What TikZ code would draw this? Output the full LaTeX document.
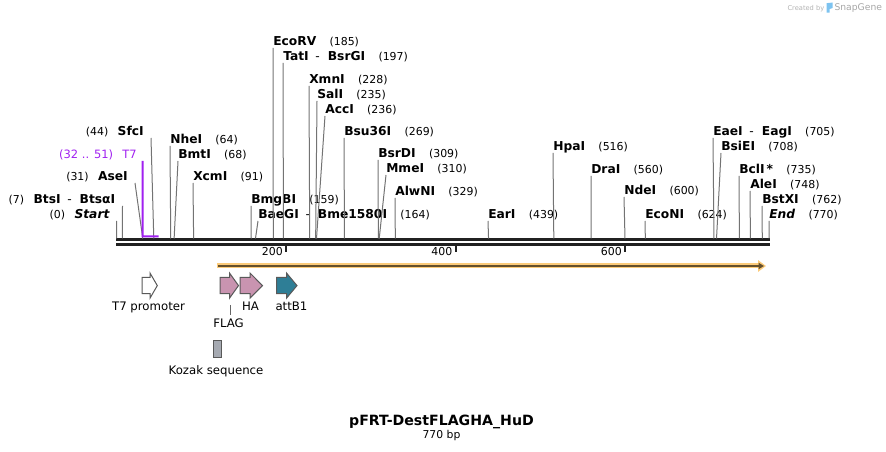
\documentclass[tikz,border=0pt]{standalone}
\usepackage{fontspec}
\setmainfont{DejaVu Sans}
\usepackage{tikz}
\usetikzlibrary{arrows.meta,calc,positioning}
\definecolor{tagpink}{RGB}{201,148,176}
\definecolor{attteal}{RGB}{46,126,150}
\definecolor{kozgray}{RGB}{166,170,178}
\definecolor{t7purple}{RGB}{160,32,240}
\definecolor{orfband}{RGB}{252,203,122}
\definecolor{orfdark}{RGB}{100,80,45}
\definecolor{logoblue}{RGB}{125,195,240}
\newcommand\enzfont{\fontsize{9.2}{11}\selectfont\bfseries}

\begin{document}
\begin{tikzpicture}[x=0.75pt,y=-0.75pt,
  enz/.style={inner sep=0pt,font=\fontsize{8.2}{10}\selectfont},
  lbl/.style={inner sep=0pt,font=\fontsize{8.8}{10}\selectfont},
  cut/.style={draw=black!55,line width=0.75pt},
  bb/.style={draw=black!87,line width=2.25pt},
  feat/.style={draw=black!65,line width=0.75pt},
  primer/.style={draw=t7purple,line width=1.5pt}]
\useasboundingbox (0,0) rectangle (886,452);

% backbone and ruler
\coordinate (bbL) at (116,240); \coordinate (bbR) at (769.5,240);
\draw[bb] (bbL) -- (bbR);
\draw[bb] ([yshift=-3.5pt]bbL) -- ([yshift=-3.5pt]bbR);
\foreach \t in {200,400,600} {
  \coordinate (k\t) at ({116.5+\t*0.8475},246);
  \draw[line width=1.5pt,black!87] (k\t) -- ++(0,6);
  \node[enz,anchor=base east] (t\t) at ({113.5+\t*0.8475},256) {\t};
}

% enzymes, labels right of the cut line
\foreach \bp/\lx/\by/\nm in {
  64/170/144/NheI, 68/178/159/BmtI, 91/193/181/XcmI, 159/251/204/BmgBI,
  164/258/219/{BaeGI\hspace{5pt}{\mdseries-}\hspace{6pt}Bme1580I},
  185/273/46/EcoRV, 197/283/61/{TatI\hspace{5pt}{\mdseries-}\hspace{6pt}BsrGI},
  228/309/84/XmnI, 235/317/99/SalI, 236/325/114/AccI, 269/344/136/Bsu36I,
  309/378/158/BsrDI, 310/386/173/MmeI, 329/395/196/AlwNI, 439/488/219/EarI,
  516/553/151/HpaI, 560/591/174/DraI, 600/624/195/NdeI, 624/645/219/EcoNI,
  705/713/136/{EaeI\hspace{5pt}{\mdseries-}\hspace{6pt}EagI}, 708/721/151/BsiEI,
  735/739/174/{BclI\,*}, 748/750/189/AleI, 762/762/204/BstXI, 770/769/219/{\itshape End}}
{
  \coordinate (c\bp) at ({116.5+\bp*0.8475},238.5);
  \node[enz,anchor=base west] (e\bp) at (\lx,\by) {{\enzfont\nm}\hspace{10pt}(\bp)};
  \draw[cut] ([yshift=-1.5pt]e\bp.base west) -- (c\bp);
}

% enzymes, labels left of the cut line
\foreach \bp/\tx/\by/\nm in {
  0/116.7/219/{\itshape Start}, 7/122.5/204/{BtsI\hspace{5pt}{\mdseries-}\hspace{6pt}BtsαI},
  31/135/181/AseI, 44/151/136/SfcI}
{
  \coordinate (c\bp) at ({116.5+\bp*0.8475},238.5);
  \node[enz,anchor=base east] (e\bp) at ({\tx-7},\by) {(\bp)\hspace{7pt}{\enzfont\nm}};
  \draw[cut] ([xshift=5.25pt,yshift=-1.5pt]e\bp.base east) -- (c\bp);
}

% T7 primer
\node[enz,anchor=base east,text=t7purple,font=\fontsize{8.6}{10}\selectfont] (t7p) at (137,159) {(32 .. 51)\hspace{7pt}T7};
\coordinate (p1) at (142.7,236.5); \coordinate (p2) at (158.5,236.5);
\draw[primer] ([xshift=4.3pt,yshift=-1.5pt]t7p.base east) -- (p1) -- (p2);

% ORF
\coordinate (o1) at (217,266); \coordinate (o2) at (766,266);
\draw[orfband,line width=3.75pt,-{Triangle[length=6pt,width=8.5pt]}] (o1) -- (o2);
\draw[orfdark,line width=1.5pt,-{Triangle[length=4pt,width=4.5pt]}] ([xshift=0.75pt]o1) -- ([xshift=-1.5pt]o2);

% features
\foreach \a/\b/\c/\col in {142/150/157.3/white, 220/229.5/238.5/tagpink,
  240/250/262.5/tagpink, 276.5/286.5/297/attteal}
  \draw[feat,fill=\col] (\a,277.5) -- (\b,277.5) -- (\b,273) -- (\c,285.6) -- (\b,298.2) -- (\b,293.7) -- (\a,293.7) -- cycle;
\node[lbl,anchor=base] (f1) at (148.5,311) {T7 promoter};
\node[lbl,anchor=base] (f2) at (250.5,311) {HA};
\node[lbl,anchor=base] (f3) at (291.5,311) {attB1};
\node[lbl,anchor=base] (f4) at (228.5,327.7) {FLAG};
\coordinate (fl) at (230,305);
\draw[black!60,line width=0.75pt] (fl) -- ([yshift=3pt]f4.north -| fl);
\draw[feat,fill=kozgray] (213.3,341) rectangle (221.7,357.7);
\node[lbl,anchor=base] (f5) at (216,375) {Kozak sequence};

% title
\node[inner sep=0pt,anchor=base,font=\fontsize{10.6}{12}\selectfont\bfseries] (ttl) at (441.5,426) {pFRT-DestFLAGHA\_HuD};
\node[inner sep=0pt,anchor=base,font=\fontsize{8.1}{10}\selectfont] (len) at (441.5,438.3) {770 bp};

% watermark
\node[inner sep=0pt,anchor=base east,text=black!30,font=\fontsize{5}{6}\selectfont] (cb) at (824.5,10.7) {Created by};
\fill[logoblue] (826.7,3.2) -- (832.7,2.5) -- (832.7,8) -- (829.5,9) -- (829.5,12.7) -- (826.7,12.7) -- cycle;
\node[inner sep=0pt,anchor=base west,text=black!35,font=\fontsize{6.9}{8}\selectfont] (sg) at (834.3,10.7) {SnapGene};
\end{tikzpicture}
\end{document}
